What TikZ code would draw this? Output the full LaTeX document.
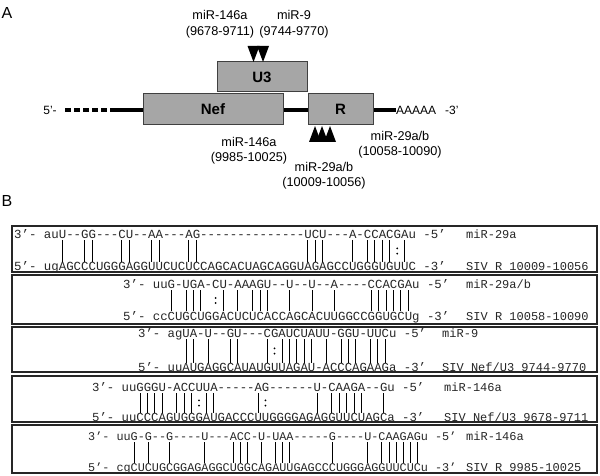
\documentclass[tikz,border=0pt]{standalone}
\usepackage{fontspec}
\setmainfont{Liberation Sans}
\setmonofont{Liberation Mono}
\tikzset{
  genebox/.style={draw=black!75, line width=1bp, fill=black!35, inner sep=0,
    font=\fontsize{15bp}{17bp}\selectfont\bfseries},
  lbl/.style={font=\fontsize{12.7bp}{14bp}\selectfont, inner sep=0},
  panel/.style={font=\fontsize{16bp}{18bp}\selectfont, inner sep=0},
  frame/.style={draw=black!85, line width=1.2bp},
  pairbar/.style={line width=0.8bp},
  seqrow/.style={inner sep=0, anchor=west, text height=7bp, text depth=0bp, text=black!85},
  seqlbl/.style={inner sep=0, anchor=west, text height=7bp, text depth=0bp, text=black!85,
    font=\ttfamily\fontsize{12bp}{14bp}\selectfont},
}
% bars: #1 x0, #2 char width, #3 y top, #4 y bottom, #5 list of indices
\newcommand{\pairbars}[5]{%
  \foreach \k in {#5} {\draw[pairbar] ({#1+(4.5+\k)*#2},#3) -- ({#1+(4.5+\k)*#2},#4);}}
% colons: #1 x0, #2 char width, #3 y middle, #4 list of indices
\newcommand{\paircolons}[4]{%
  \foreach \k in {#4} {\fill ({#1+(4.5+\k)*#2},#3-2.6) circle (1bp);
                       \fill ({#1+(4.5+\k)*#2},#3+2.6) circle (1bp);}}
\begin{document}
\begin{tikzpicture}[x=1bp,y=-1bp]
\useasboundingbox (0,0) rectangle (600,476);
% ---------------- panel A ----------------
\node[panel] (pA) at (7,13) {A};
\node[panel] (pB) at (7,201) {B};

\coordinate (dstart) at (65,110);
\coordinate (dend) at (107,110);
\coordinate (lstart) at (110,110);
\node[lbl, font=\fontsize{12bp}{14bp}\selectfont] (five) at (50,110) {5’-};
\node[lbl, font=\fontsize{12bp}{14bp}\selectfont, anchor=west] (polyA) at (396,110) {AAAAA};
\node[lbl, font=\fontsize{12bp}{14bp}\selectfont, anchor=west] (three) at (445,110) {-3’};
\draw[line width=4bp, dash pattern=on 6bp off 3bp] (dstart) -- (dend);
\draw[line width=4bp] (lstart) -- (polyA.west);

\node[genebox, minimum width=90bp, minimum height=30bp] (u3) at (262,77) {U3};
\node[genebox, minimum width=140bp, minimum height=31bp] (nef) at (213,109.5) {Nef};
\node[genebox, minimum width=65bp, minimum height=31bp] (r) at (340.5,109.5) {R};

% arrowheads above U3
\fill (247.5,46) -- (259.5,46) -- (253.5,62) -- cycle;
\fill (257,46) -- (269,46) -- (263,62) -- cycle;
% arrowheads below R
\fill (309,142) -- (321,142) -- (315,126) -- cycle;
\fill (316,142) -- (328,142) -- (322,126) -- cycle;
\fill (324,142) -- (336,142) -- (330,126) -- cycle;

\node[lbl] (m146a) at (220,15) {miR-146a};
\node[lbl] (p146a) at (220,32) {(9678-9711)};
\node[lbl] (m9) at (294,15) {miR-9};
\node[lbl] (p9) at (294,32) {(9744-9770)};
\node[lbl] (m146b) at (249,142) {miR-146a};
\node[lbl] (p146b) at (249,158) {(9985-10025)};
\node[lbl] (m29r) at (400,136) {miR-29a/b};
\node[lbl] (p29r) at (400,152) {(10058-10090)};
\node[lbl] (m29l) at (324,167) {miR-29a/b};
\node[lbl] (p29l) at (324,183) {(10009-10056)};

% ---------------- panel B ----------------
% box 1
\draw[frame] (12,226) rectangle (597,272);
\node[seqrow, font=\ttfamily\fontsize{12.4bp}{14bp}\selectfont] (b1t) at (14,235)
  {3’- auU--GG---CU--AA---AG--------------UCU---A-CCACGAu -5’};
\node[seqrow, font=\ttfamily\fontsize{12.4bp}{14bp}\selectfont] (b1b) at (14,267)
  {5’- ugAGCCCUGGGAGGUUCUCUCCAGCACUAGCAGGUAGAGCCUGGGUGUUC -3’};
\node[seqlbl] (b1l) at (466,235) {miR-29a};
\node[seqlbl] (b1m) at (466,267) {SIV R 10009-10056};
\pairbars{14}{7.44}{240}{262}{2,5,6,10,11,14,15,19,20,35,36,37,41,43,44,45,46,48}
\paircolons{14}{7.44}{251}{47}

% box 2
\draw[frame] (12,275) rectangle (597,324);
\node[seqrow, font=\ttfamily\fontsize{12.35bp}{14bp}\selectfont] (b2t) at (123,285)
  {3’- uuG-UGA-CU-AAAGU--U--U--A----CCACGAu -5’};
\node[seqrow, font=\ttfamily\fontsize{12.35bp}{14bp}\selectfont] (b2b) at (123,316.5)
  {5’- ccCUGCUGGACUCUCACCAGCACUUGGCCGGUGCUg -3’};
\node[seqlbl] (b2l) at (466,285) {miR-29a/b};
\node[seqlbl] (b2m) at (466,316.5) {SIV R 10058-10090};
\pairbars{123}{7.41}{290}{311}{2,4,5,6,9,11,13,14,15,18,21,24,29,30,31,32,33,34}
\paircolons{123}{7.41}{300.5}{8}

% box 3
\draw[frame] (12,327) rectangle (597,372);
\node[seqrow, font=\ttfamily\fontsize{12.3bp}{14bp}\selectfont] (b3t) at (138,333.5)
  {3’- agUA-U--GU---CGAUCUAUU-GGU-UUCu -5’};
\node[seqrow, font=\ttfamily\fontsize{12.3bp}{14bp}\selectfont] (b3b) at (138,368)
  {5’- uuAUGAGGCAUAUGUUAGAU-ACCCAGAAGa -3’};
\node[seqlbl] (b3l) at (442,333.5) {miR-9};
\node[seqlbl] (b3m) at (442,368) {SIV Nef/U3 9744-9770};
\pairbars{138}{7.38}{339}{363}{2,3,5,8,9,13,15,16,17,18,19,21,23,24,25,27,28,29}
\paircolons{138}{7.38}{351}{14}

% box 4
\draw[frame] (12,376) rectangle (597,422);
\node[seqrow, font=\ttfamily\fontsize{12.3bp}{14bp}\selectfont] (b4t) at (92,388)
  {3’- uuGGGU-ACCUUA-----AG------U-CAAGA--Gu -5’};
\node[seqrow, font=\ttfamily\fontsize{12.3bp}{14bp}\selectfont] (b4b) at (92,418)
  {5’- uuCCCAGUGGGAUGACCCUUGGGGAGAGGUUCUAGCa -3’};
\node[seqlbl] (b4l) at (444,388) {miR-146a};
\node[seqlbl] (b4m) at (444,418) {SIV Nef/U3 9678-9711};
\pairbars{92}{7.38}{393}{413}{2,3,4,5,7,8,9,11,12,18,26,28,29,30,31,32,35}
\paircolons{92}{7.38}{403}{10,19}

% box 5
\draw[frame] (12,425) rectangle (597,473);
\node[seqrow, font=\ttfamily\fontsize{11.8bp}{14bp}\selectfont] (b5t) at (88,437)
  {3’- uuG-G--G----U---ACC-U-UAA-----G----U-CAAGAGu -5’};
\node[seqrow, font=\ttfamily\fontsize{11.8bp}{14bp}\selectfont] (b5b) at (88,468)
  {5’- cgCUCUGCGGAGAGGCUGGCAGAUUGAGCCCUGGGAGGUUCUCu -3’};
\node[seqlbl] (b5l) at (466,437) {miR-146a};
\node[seqlbl] (b5m) at (466,468) {SIV R 9985-10025};
\pairbars{88}{7.08}{442}{463}{2,4,7,12,16,17,18,20,22,23,24,30,35,37,38,39,40,41,42}
\end{tikzpicture}
\end{document}
